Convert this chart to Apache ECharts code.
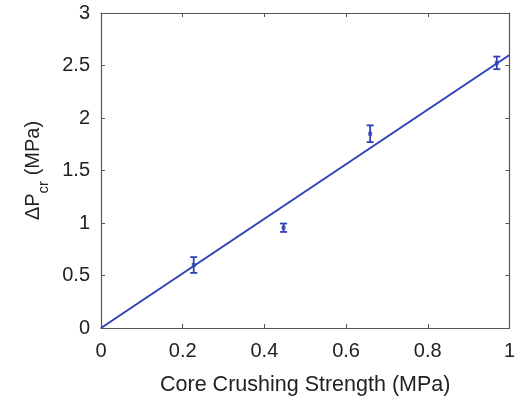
<!DOCTYPE html>
<html><head><meta charset="utf-8">
<script src="https://cdn.jsdelivr.net/npm/echarts@6/dist/echarts.min.js"></script>
<style>html,body{margin:0;padding:0;background:#fff}#c{width:518px;height:401px}</style>
</head><body><div id="c"></div>
<script>
const xVals = [0.227, 0.447, 0.659, 0.969];
const yVals = [0.60, 0.955, 1.85, 2.525];
const yErr = [0.075, 0.04, 0.08, 0.06];
const fitX = [0, 1];
const fitY = [0, 2.6];
const xTicks = [0, 0.2, 0.4, 0.6, 0.8, 1];
const yTicks = [0, 0.5, 1, 1.5, 2, 2.5, 3];

const blue = '#2f40b4';
const axisCol = '#555';
const txt = '#222';
const font = 'Liberation Sans, Arial, sans-serif';
const chart = echarts.init(document.getElementById('c'));
const fmt = v => String(Math.round(v * 10) / 10);
const lineCfg = {show: true, onZero: false, lineStyle: {color: axisCol, width: 1.2}};
const tickCfg = {show: true, inside: true, length: 4, lineStyle: {color: axisCol}};
chart.setOption({
  animation: false,
  grid: {left: 101, right: 8, top: 13, bottom: 73},
  xAxis: [{
    type: 'value', min: 0, max: 1, interval: 0.2, position: 'bottom',
    name: 'Core Crushing Strength (MPa)', nameLocation: 'middle', nameGap: 46,
    nameTextStyle: {fontFamily: font, fontSize: 21.5, color: txt},
    axisLine: lineCfg, axisTick: tickCfg,
    axisLabel: {fontFamily: font, fontSize: 20, color: txt, margin: 13,
      formatter: v => xTicks.includes(Math.round(v*10)/10) ? fmt(v) : ''},
    splitLine: {show: false}
  }, {
    type: 'value', min: 0, max: 1, interval: 0.2, position: 'top',
    axisLine: lineCfg, axisTick: tickCfg,
    axisLabel: {show: false}, splitLine: {show: false}
  }],
  yAxis: [{
    type: 'value', min: 0, max: 3, interval: 0.5, position: 'left',
    name: '{a|ΔP}{b|cr}{a| (MPa)}', nameLocation: 'middle', nameGap: 56, nameRotate: 90,
    nameTextStyle: {
      rich: {
        a: {fontFamily: font, fontSize: 20, color: txt, lineHeight: 24, verticalAlign: 'bottom'},
        b: {fontFamily: font, fontSize: 15, color: txt, lineHeight: 24, verticalAlign: 'bottom', padding: [0, 0, -8, 0]}
      }
    },
    axisLine: lineCfg, axisTick: tickCfg,
    axisLabel: {fontFamily: font, fontSize: 20, color: txt, margin: 11,
      formatter: v => yTicks.includes(v) ? fmt(v) : ''},
    splitLine: {show: false}
  }, {
    type: 'value', min: 0, max: 3, interval: 0.5, position: 'right',
    axisLine: lineCfg, axisTick: tickCfg,
    axisLabel: {show: false}, splitLine: {show: false}
  }],
  series: [{
    type: 'line', data: fitX.map((x, i) => [x, fitY[i]]),
    symbol: 'none', lineStyle: {color: blue, width: 2}, z: 2
  }, {
    type: 'custom',
    data: xVals.map((x, i) => [x, yVals[i] - yErr[i], yVals[i] + yErr[i]]),
    renderItem: (params, api) => {
      const lo = api.coord([api.value(0), api.value(1)]);
      const hi = api.coord([api.value(0), api.value(2)]);
      const w = 3.5;
      const st = {stroke: blue, lineWidth: 1.8};
      return {type: 'group', children: [
        {type: 'line', shape: {x1: lo[0], y1: lo[1], x2: hi[0], y2: hi[1]}, style: st},
        {type: 'line', shape: {x1: lo[0]-w, y1: lo[1], x2: lo[0]+w, y2: lo[1]}, style: st},
        {type: 'line', shape: {x1: hi[0]-w, y1: hi[1], x2: hi[0]+w, y2: hi[1]}, style: st}
      ]};
    }, z: 3
  }, {
    type: 'scatter', data: xVals.map((x, i) => [x, yVals[i]]),
    symbol: 'rect', symbolSize: 4, itemStyle: {color: blue}, z: 4
  }]
});
</script></body></html>
